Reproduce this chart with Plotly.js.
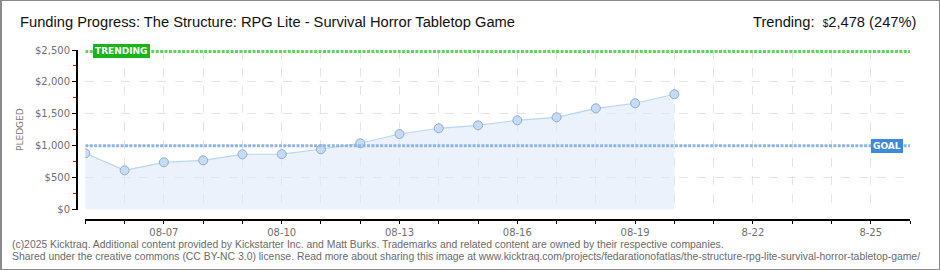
<!DOCTYPE html>
<html>
<head>
<meta charset="utf-8">
<script src="https://cdn.plot.ly/plotly-3.0.1.min.js"></script>
<style>
  html, body { margin: 0; padding: 0; background: #fff; }
  #wrap { position: relative; width: 940px; height: 270px; }
  #chart { width: 940px; height: 270px; }
  #frame { position: absolute; left: 0; top: 0; width: 940px; height: 270px; box-sizing: border-box;
           border: 1px solid #8a8a8a; border-left-width: 2px; pointer-events: none; }
</style>
</head>
<body>
<div id="wrap"><div id="chart"></div><div id="frame"></div></div>
<script>
// ---- data ----
const titleText = 'Funding Progress: The Structure: RPG Lite - Survival Horror Tabletop Game';
const dates = ['2025-08-05','2025-08-06','2025-08-07','2025-08-08','2025-08-09','2025-08-10','2025-08-11','2025-08-12',
               '2025-08-13','2025-08-14','2025-08-15','2025-08-16','2025-08-17','2025-08-18','2025-08-19','2025-08-20'];
const pledged = [881, 614, 740, 771, 865, 868, 944, 1038, 1183, 1273, 1320, 1398, 1445, 1586, 1665, 1806];
const tickDates = ['2025-08-05','2025-08-06','2025-08-07','2025-08-08','2025-08-09','2025-08-10','2025-08-11','2025-08-12',
                   '2025-08-13','2025-08-14','2025-08-15','2025-08-16','2025-08-17','2025-08-18','2025-08-19','2025-08-20',
                   '2025-08-21','2025-08-22','2025-08-23','2025-08-24','2025-08-25','2025-08-26'];
const tickLabels = ['', '', '08-07', '', '', '08-10', '', '', '08-13', '', '', '08-16', '', '', '08-19', '', '', '8-22', '', '', '8-25', ''];
const yTickVals = [0, 500, 1000, 1500, 2000, 2500];
const yTickText = ['$0', '$500', '$1,000', '$1,500', '$2,000', '$2,500'];
const goal = 1000;
const trending = 2478;
const trendingText = 'Trending:  <span style="font-size:10px">$</span>2,478 (247%)';
const footer1 = '(c)2025 Kicktraq. Additional content provided by Kickstarter Inc. and Matt Burks. Trademarks and related content are owned by their respective companies.';
const footer2 = 'Shared under the creative commons (CC BY-NC 3.0) license. Read more about sharing this image at www.kicktraq.com/projects/fedarationofatlas/the-structure-rpg-lite-survival-horror-tabletop-game/';

// ---- chart ----
const axisFont = { family: 'DejaVu Sans, sans-serif', size: 10, color: '#707070' };
const xStart = tickDates[0], xEnd = tickDates[tickDates.length - 1];
const titleFont = { family: 'Liberation Sans, Arial, sans-serif', size: 14.7, color: '#111' };
const footFont = { family: 'Liberation Sans, Arial, sans-serif', size: 10.4, color: '#6a6a6a' };

const traces = [{
  type: 'scatter', mode: 'lines+markers', x: dates, y: pledged,
  fill: 'tozeroy', fillcolor: 'rgba(222,234,250,0.6)',
  line: { color: '#b9d5f3', width: 1.2 },
  marker: { size: 9, color: '#c4dcf6', line: { color: '#94acc9', width: 1 } },
  hoverinfo: 'skip', showlegend: false
}];

const layout = {
  width: 940, height: 270,
  margin: { l: 76, r: 30, t: 50, b: 51 },
  paper_bgcolor: '#fff', plot_bgcolor: 'rgba(0,0,0,0)',
  showlegend: false,
  title: { text: titleText, x: 20 / 940, xref: 'container', xanchor: 'left', y: 1 - 22 / 270, yanchor: 'middle',
           font: titleFont },
  xaxis: {
    type: 'date', range: [xStart, xEnd], domain: [0.0112, 1], anchor: 'free', position: 0,
    tickmode: 'array', tickvals: tickDates, ticktext: tickLabels,
    ticks: 'outside', ticklen: 3, tickwidth: 1, tickcolor: '#000',
    showline: true, linecolor: '#000', linewidth: 1.5,
    showgrid: true, gridcolor: '#e4e4e4', griddash: 'dash', gridwidth: 1,
    zeroline: false, tickfont: axisFont, fixedrange: true
  },
  yaxis: {
    range: [0, 2500], domain: [0.0562, 1], anchor: 'free', position: 0,
    tickmode: 'array', tickvals: yTickVals, ticktext: yTickText,
    ticks: 'outside', ticklen: 4, tickwidth: 1, tickcolor: '#000',
    minor: { tickmode: 'linear', tick0: 0, dtick: 250, ticks: 'outside', ticklen: 3, tickcolor: '#ff0000', tickwidth: 1, showgrid: false },
    showline: true, linecolor: '#000', linewidth: 1.5,
    showgrid: true, gridcolor: '#e4e4e4', griddash: 'dash', gridwidth: 1,
    zeroline: false, tickfont: axisFont, fixedrange: true
  },
  shapes: [
    { type: 'line', xref: 'x', yref: 'y', x0: xStart, x1: xEnd, y0: goal, y1: goal,
      line: { color: '#8fb5e3', width: 3, dash: '3px,1.4px' }, layer: 'above' },
    { type: 'line', xref: 'x', yref: 'y', x0: xStart, x1: xEnd, y0: trending, y1: trending,
      line: { color: '#5fd35f', width: 3, dash: '3px,1.4px' }, layer: 'above' }
  ],
  annotations: [
    { text: trendingText, xref: 'paper', yref: 'paper', x: (918 - 76) / 834, y: 1 + (50 - 22) / 169,
      xanchor: 'right', yanchor: 'middle', showarrow: false, font: titleFont },
    { text: 'TRENDING', xref: 'paper', yref: 'y', x: (93 - 76) / 834, y: trending, xanchor: 'left', yanchor: 'middle',
      showarrow: false, bgcolor: '#17b517', borderpad: 2, borderwidth: 0,
      font: { family: 'DejaVu Sans, sans-serif', size: 9, color: '#fff', weight: 'bold' } },
    { text: 'GOAL', xref: 'paper', yref: 'y', x: (871 - 76) / 834, y: goal, xanchor: 'left', yanchor: 'middle',
      showarrow: false, bgcolor: '#3d8adb', borderpad: 2, borderwidth: 0,
      font: { family: 'DejaVu Sans, sans-serif', size: 9, color: '#fff', weight: 'bold' } },
    { text: 'PLEDGED', xref: 'paper', yref: 'paper', x: (20 - 76) / 834, y: (219 - 130) / 169, textangle: -90,
      xanchor: 'center', yanchor: 'middle', showarrow: false,
      font: { family: 'DejaVu Sans, sans-serif', size: 9, color: '#777' } },
    { text: footer1, xref: 'paper', yref: 'paper', x: (10 - 76) / 834, y: -(244 - 219) / 169,
      xanchor: 'left', yanchor: 'middle', showarrow: false, font: footFont },
    { text: footer2, xref: 'paper', yref: 'paper', x: (10 - 76) / 834, y: -(256 - 219) / 169,
      xanchor: 'left', yanchor: 'middle', showarrow: false, font: footFont }
  ]
};

Plotly.newPlot('chart', traces, layout, { staticPlot: true, displayModeBar: false });
</script>
</body>
</html>
